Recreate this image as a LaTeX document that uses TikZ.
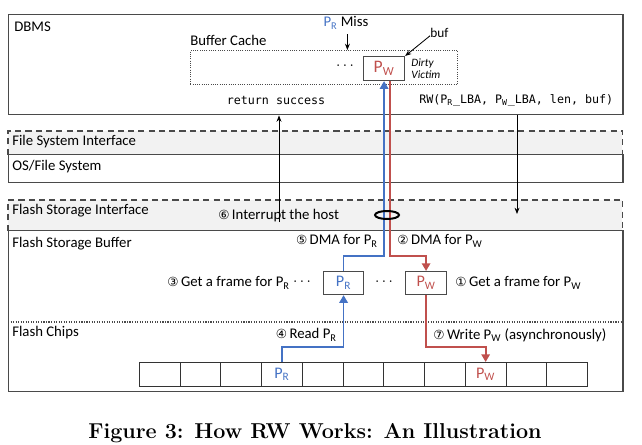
\documentclass[tikz,border=0pt]{standalone}
\usepackage{fontspec}
\setsansfont{Carlito}
\setmonofont{DejaVu Sans Mono}
\newfontfamily\circfont{DejaVu Sans}[Scale=0.85]
\usepackage{tikz}
\usetikzlibrary{arrows.meta,positioning,shapes.geometric}

\definecolor{rblue}{HTML}{4472C4}
\definecolor{rred}{HTML}{C0504D}
\definecolor{edge}{HTML}{4A4A4A}
\definecolor{band}{HTML}{F2F2F2}
\newcommand{\PRsub}{P\textsubscript{R}}
\newcommand{\PWsub}{P\textsubscript{W}}
\newcommand{\cnum}[1]{{\circfont #1}\,}

\begin{document}
\begin{tikzpicture}[
    x=0.025cm, y=-0.025cm,
    font=\sffamily\fontsize{10.5}{12}\selectfont,
    layer/.style={draw=edge, line width=1pt, anchor=north west, inner sep=0pt, minimum width=15.35cm},
    bandbox/.style={fill=band, anchor=north west, inner sep=0pt, minimum width=15.35cm},
    bandline/.style={draw=edge, line width=1pt, dash pattern=on 4.3pt off 3pt},
    lbl/.style={anchor=west, inner sep=0pt},
    frame/.style={draw=edge, line width=0.8pt, anchor=north west, minimum width=1cm, minimum height=0.575cm, inner sep=0pt, font=\sffamily\fontsize{11.5}{12}\selectfont},
    cell/.style={draw=black!80, line width=0.6pt, anchor=north west, minimum width=1.018cm, minimum height=0.6cm, inner sep=0pt},
    flow/.style={line width=1.3pt, -{Triangle[length=5.5pt, width=6pt]}},
    ctl/.style={line width=0.6pt, -{Stealth[length=4.5pt, width=3.5pt]}},
    code/.style={font=\ttfamily\fontsize{8.3}{10}\selectfont, inner sep=0pt}
]
\useasboundingbox (0,0) rectangle (642,445);

% host side
\node[layer, minimum height=2.5cm] (dbms) at (8,14) {};
\node[lbl] (dbmsl) at (14,27) {DBMS};
\node[lbl] (cachel) at (190,40) {Buffer Cache};
\node[draw=edge, densely dotted, line width=0.6pt, anchor=north west, minimum width=6.675cm, minimum height=0.85cm] (cache) at (190,50) {};
\node[frame, minimum width=1.025cm, minimum height=0.6cm, text=rred, font=\sffamily\fontsize{12.5}{13}\selectfont] (pwc) at (363,56) {\PWsub};
\node (dotsc) at (345,66) {$\cdots$};
\node[lbl, font=\sffamily\itshape\fontsize{8}{8.5}\selectfont, align=left] (victim) [right=0.15cm of pwc] {Dirty\\Victim};
\node[lbl, font=\sffamily\fontsize{9.5}{11}\selectfont] (buf) at (430,33) {buf};
\node (miss) at (346,23) {\textcolor{rblue}{\PRsub} Miss};
\node[code] (ret) at (276,100) {return success};
\node[code, anchor=west] (rw) at (419,100) {RW(\PRsub\_LBA, \PWsub\_LBA, len, buf)};

\node[bandbox, minimum height=0.575cm] (fsi) at (8,131) {};
\draw[bandline] (fsi.south west) -- (fsi.north west) -- (fsi.north east) -- (fsi.south east);
\node[lbl] (fsil) at (12,142) {File System Interface};
\node[layer, minimum height=0.7cm] (os) at (8,154) {};
\node[lbl] (osl) at (12,167) {OS/File System};

% device side
\node[bandbox, minimum height=0.75cm] (fsif) at (8,200) {};
\draw[bandline] (fsif.south west) -- (fsif.north west) -- (fsif.north east) -- (fsif.south east);
\node[lbl] (fsifl) at (12,211) {Flash Storage Interface};
\node[lbl] (intr) at (218,216) {\cnum{⑥}Interrupt the host};
\node[layer, minimum height=4.025cm] (fsb) at (8,230) {};
\node[lbl] (fsbl) at (12,244) {Flash Storage Buffer};
\coordinate (chipsy) at (0,322);
\draw[edge, densely dotted, line width=0.8pt] (chipsy -| fsb.west) -- (chipsy -| fsb.east);
\node[lbl] (chipsl) at (12,333) {Flash Chips};

\node[frame, text=rblue] (fpr) at (323,271) {\PRsub};
\node[frame, minimum width=1.025cm, text=rred] (fpw) at (405,271) {\PWsub};
\node (dotsa) at (302,282) {$\cdots$};
\node (dotsb) at (384,282) {$\cdots$};
\node[lbl, anchor=east] (getr) at (290,283) {\cnum{③}Get a frame for \PRsub};
\node[lbl] (getw) at (455,283) {\cnum{①}Get a frame for \PWsub};
\node[lbl, anchor=east] (dmar) at (378,241) {\cnum{⑤}DMA for \PRsub};
\node[lbl] (dmaw) at (397,241) {\cnum{②}DMA for \PWsub};
\node[lbl, anchor=east] (readr) at (337,335) {\cnum{④}Read \PRsub};
\node[lbl] (writew) at (433,335) {\cnum{⑦}Write \PWsub\ (asynchronously)};

\foreach \i in {0,...,10}
    \node[cell] (c\i) at ({139+40.73*\i},362) {};
\node[text=rblue, font=\sffamily\fontsize{11.5}{12}\selectfont] (cpr) at (c3) {\PRsub};
\node[text=rred, font=\sffamily\fontsize{11.5}{12}\selectfont] (cpw) at (c8) {\PWsub};

% control arrows
\draw[ctl] ([yshift=-2pt]buf.west) -- (pwc.north east);
\draw[ctl] ([xshift=1pt]miss.south) -- ([xshift=1pt]miss.south |- cache.north);
\coordinate (retfoot) at (279,222);
\coordinate (rwfoot) at (517,214);
\draw[ctl] (retfoot) -- (retfoot |- dbms.south);
\draw[ctl] (rwfoot |- dbms.south) -- (rwfoot);

% data paths
\coordinate (readbend) at (0,347);
\coordinate (dmabend) at (0,256);
\coordinate (redx) at ([xshift=0.14cm]pwc.south);
\draw[flow, rblue] (c3.north) |- (readbend -| fpr.south) -- (fpr.south);
\draw[flow, rblue] (fpr.north) |- (dmabend -| pwc.south) -- (pwc.south);
\draw[flow, rred] (redx) |- (dmabend -| fpw.north) -- (fpw.north);
\draw[flow, rred] (fpw.south) |- (readbend -| c8.north) -- (c8.north);
\node[draw, ellipse, line width=1.4pt, minimum width=0.6cm, minimum height=0.2cm, inner sep=0pt] (bus) at (387,215) {};

\node[font=\rmfamily\bfseries\fontsize{15.3}{18}\selectfont] (caption) at (315,433) {Figure 3: How RW Works: An Illustration};
\end{tikzpicture}
\end{document}
